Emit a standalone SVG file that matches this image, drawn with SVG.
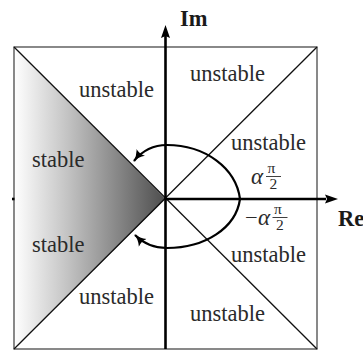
<svg xmlns="http://www.w3.org/2000/svg" width="363" height="351" viewBox="0 0 363 351">
<defs>
<style>
.lbl{font-family:"Liberation Serif","Times New Roman",serif;font-size:22.5px;fill:#2a2a2a}
.ax{font-family:"Liberation Serif","Times New Roman",serif;font-size:22.5px;font-weight:bold;fill:#1a1a1a}
.gr{font-family:"Liberation Serif","Times New Roman",serif;font-style:italic;font-size:23px;fill:#2a2a2a}
.fr{font-family:"Liberation Serif","Times New Roman",serif;font-size:15.5px;fill:#2a2a2a}
.thin{stroke:#111;stroke-width:1.3;fill:none}
.axis{stroke:#000;stroke-width:2.6;fill:none}
.arc{stroke:#000;stroke-width:2.2;fill:none}
</style>
<linearGradient id="shade" gradientUnits="userSpaceOnUse" x1="14" y1="0" x2="165" y2="0">
<stop offset="0" stop-color="#ffffff"/>
<stop offset="0.35" stop-color="#c4c4c4"/>
<stop offset="1" stop-color="#4e4e4e"/>
</linearGradient>
<marker id="ah" markerUnits="userSpaceOnUse" markerWidth="14" markerHeight="12" viewBox="0 -6 14 12" refX="11" refY="0" orient="auto">
<path d="M0,-5.5 Q5,-1 12,0 Q5,1 0,5.5 Q2.5,0 0,-5.5 Z" fill="#000"/>
</marker>
</defs>
<g id="stable-region">
<polygon points="14,47 165.5,199 14,349" fill="url(#shade)"/>
</g>
<g id="frame">
<rect x="14" y="47" width="303" height="302" fill="none" stroke="#4a4a4a" stroke-width="1.3"/>
</g>
<g id="connectors">
<line class="thin" x1="14" y1="47" x2="317" y2="349"/>
<line class="thin" x1="14" y1="349" x2="317" y2="47"/>
<line class="axis" x1="165.5" y1="349" x2="165.5" y2="36"/>
<polygon points="165.5,25 170,38 165.5,36 161,38" fill="#000"/>
<line class="axis" x1="165.5" y1="199" x2="326" y2="199"/>
<polygon points="338,199 325,194.5 327,199 325,203.5" fill="#000"/>
<line x1="12" y1="199" x2="14.5" y2="199" stroke="#000" stroke-width="2.6"/>
<path class="arc" d="M240,199 C236,168 205,145 167,145 C153,145 142,151 134,161" marker-end="url(#ah)"/>
<path class="arc" d="M240,199 C236,228 205,248 167,248 C153,248 143,243 135,235" marker-end="url(#ah)"/>
</g>
<g id="labels">
<text class="ax" x="180" y="26">Im</text>
<text class="ax" x="338" y="226">Re</text>
<text class="lbl" x="190" y="81">unstable</text>
<text class="lbl" x="79" y="97">unstable</text>
<text class="lbl" x="32" y="167">stable</text>
<text class="lbl" x="231" y="150">unstable</text>
<text class="lbl" x="32" y="252">stable</text>
<text class="lbl" x="231" y="262">unstable</text>
<text class="lbl" x="79" y="304">unstable</text>
<text class="lbl" x="190" y="321">unstable</text>
</g>
<g id="angle-labels">
<text class="gr" x="251" y="184">α</text>
<text class="fr" x="267.5" y="173">π</text>
<line x1="266" y1="176.5" x2="281" y2="176.5" stroke="#2a2a2a" stroke-width="0.9"/>
<text class="fr" x="269.5" y="189">2</text>
<text class="lbl" x="245" y="225">−</text>
<text class="gr" x="258" y="225">α</text>
<text class="fr" x="274" y="214">π</text>
<line x1="272.5" y1="217.5" x2="287.5" y2="217.5" stroke="#2a2a2a" stroke-width="0.9"/>
<text class="fr" x="276" y="230">2</text>
</g>
</svg>
